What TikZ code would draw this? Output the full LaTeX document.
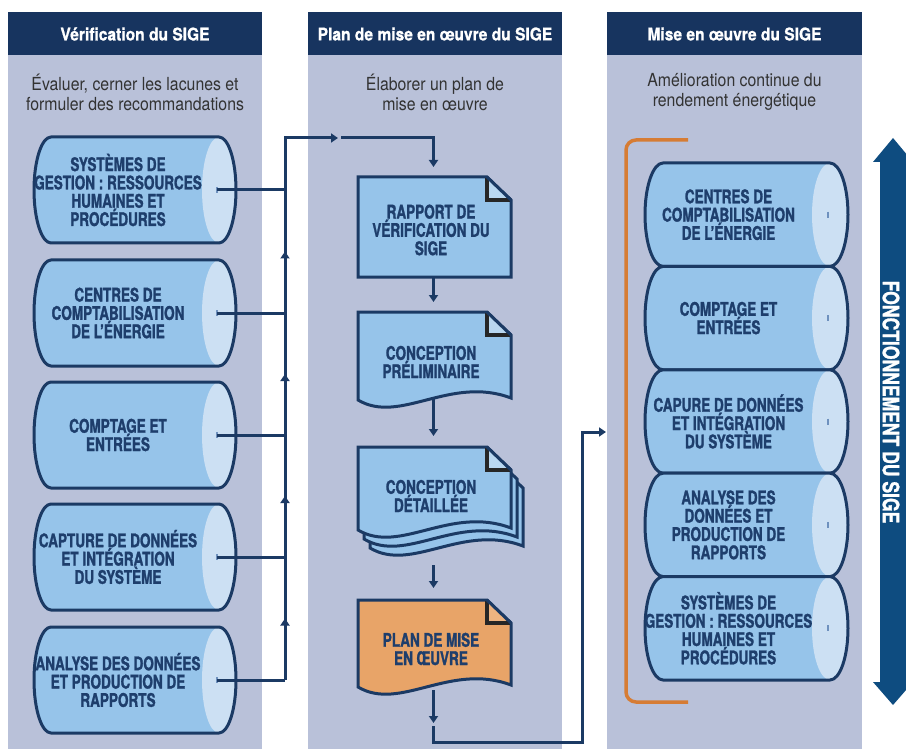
\documentclass[tikz,border=0pt]{standalone}
\usepackage{fontspec}
\setmainfont{TeX Gyre Heros}
\newfontfamily\hdrfont{TeX Gyre Heros}[FakeStretch=0.89,BoldFeatures={FakeBold=0.8}]
\newfontfamily\subfont{TeX Gyre Heros}[FakeStretch=0.88]
\newfontfamily\boxfont{TeX Gyre Heros}[FakeStretch=0.72,BoldFeatures={FakeBold=1.3}]
\newfontfamily\sidefont{TeX Gyre Heros}[FakeStretch=0.78,BoldFeatures={FakeBold=1.2}]
\usetikzlibrary{arrows.meta,calc,decorations.markings}
\definecolor{panelbg}{RGB}{185,193,217}
\definecolor{hdr}{RGB}{23,52,95}
\definecolor{cylfill}{RGB}{150,196,234}
\definecolor{cylend}{RGB}{204,224,243}
\definecolor{navy}{RGB}{27,58,100}
\definecolor{txtnavy}{RGB}{30,62,108}
\definecolor{foldblue}{RGB}{185,215,240}
\definecolor{docorange}{RGB}{232,164,104}
\definecolor{foldorange}{RGB}{238,180,128}
\definecolor{bracketc}{RGB}{214,124,52}
\definecolor{bigarrow}{RGB}{14,76,128}
\definecolor{subgray}{RGB}{51,51,51}
\definecolor{tickc}{RGB}{110,145,190}
\newcommand{\mycyl}[7]{%
  \pgfmathsetmacro{\cxl}{#2+#6}%
  \pgfmathsetmacro{\cxr}{#3-#6}%
  \pgfmathsetmacro{\ctop}{#4-#5}%
  \pgfmathsetmacro{\cbot}{#4+#5}%
  \pgfmathsetmacro{\ctx}{(#2+#3)/2-#6}%
  \fill[cylfill] (\cxl,\ctop) -- (\cxr,\ctop) arc[start angle=-90,end angle=90,x radius=#6,y radius=#5] -- (\cxl,\cbot) arc[start angle=90,end angle=270,x radius=#6,y radius=#5] -- cycle;
  \fill[cylend] (\cxr,#4) ellipse[x radius=#6,y radius=#5];
  \draw[cylline] (\cxl,\ctop) -- (\cxr,\ctop) arc[start angle=-90,end angle=90,x radius=#6,y radius=#5] -- (\cxl,\cbot) arc[start angle=90,end angle=270,x radius=#6,y radius=#5] -- cycle;
  \node[boxtext] (#1) at (\ctx,#4) {#7};
  \coordinate (#1-dot) at (\cxr-2,#4);
  \draw[tickline] (\cxr-2,#4-3) -- (\cxr-2,#4+3);
}
\newcommand{\mydocwave}[5]{%
  \filldraw[fill=#5,docline] (#1,#2) -- (#3-24,#2) -- (#3,#2+23) -- (#3,#4-2) .. controls (#3-61,#4-25) and (#1+42,#4+25) .. (#1,#4) -- cycle;
}
\newcommand{\myfold}[3]{%
  \fill[#3] (#1-24,#2) -- (#1-24,#2+23) -- (#1,#2+23) -- cycle;
  \draw[foldline] (#1-24,#2+1) -- (#1-24,#2+23) -- (#1-1,#2+23);
  \draw[docline] (#1-24,#2) -- (#1,#2+23);
}
\begin{document}
\begin{tikzpicture}[x=1pt,y=-1pt,
  conn/.style={draw=navy,line width=3pt},
  tip/.style={-{Triangle[width=9pt,length=7pt]}},
  midup/.style={postaction={decorate},decoration={markings,mark=at position 0.5 with {\arrow{Triangle[width=9pt,length=7pt]}}}},
  cylline/.style={draw=navy,line width=3pt},
  docline/.style={draw=navy,line width=3pt},
  foldline/.style={draw=black!85,line width=3.4pt},
  tickline/.style={draw=tickc,line width=1.8pt},
  boxtext/.style={align=center,inner sep=0pt,text=txtnavy,font=\boxfont\bfseries\fontsize{18.8}{18.3}\selectfont},
  hdrtext/.style={inner sep=0pt,text=white,font=\hdrfont\bfseries\fontsize{17.5}{20}\selectfont},
  subtext/.style={align=center,inner sep=0pt,text=subgray,font=\subfont\fontsize{18}{20}\selectfont},
  panel/.style={fill=panelbg},
  header/.style={fill=hdr}]
\useasboundingbox (0,0) rectangle (906,749);
\fill[white] (0,0) rectangle (906,749);
% panels
\fill[panel] (8,12) rectangle (262,749);
\fill[header] (8,12) rectangle (262,55);
\fill[panel] (308,12) rectangle (562,749);
\fill[header] (308,12) rectangle (562,55);
\fill[panel] (607,12) rectangle (862,749);
\fill[header] (607,12) rectangle (862,55);
\node[hdrtext] (h1) at (135,34) {Vérification du SIGE};
\node[hdrtext] (h2) at (435,34) {Plan de mise en œuvre du SIGE};
\node[hdrtext] (h3) at (734.5,34) {Mise en œuvre du SIGE};
\node[subtext] (s1) at (135,92) {Évaluer, cerner les lacunes et\\formuler des recommandations};
\node[subtext] (s2) at (435,92) {Élaborer un plan de\\mise en œuvre};
\node[subtext] (s3) at (734.5,92) {Amélioration continue du\\rendement énergétique};
% left cylinders
\mycyl{L1}{34}{236}{190}{53}{17}{SYSTÈMES DE\\GESTION : RESSOURCES\\HUMAINES ET\\PROCÉDURES}
\mycyl{L2}{34}{236}{313}{53}{17}{CENTRES DE\\COMPTABILISATION\\DE L’ÉNERGIE}
\mycyl{L3}{34}{236}{435}{53}{17}{COMPTAGE ET\\ENTRÉES}
\mycyl{L4}{34}{236}{557}{53}{17}{CAPTURE DE DONNÉES\\ET INTÉGRATION\\DU SYSTÈME}
\mycyl{L5}{34}{236}{680}{53}{17}{ANALYSE DES DONNÉES\\ET PRODUCTION DE\\RAPPORTS}
% bus connectors
\coordinate (busx) at (285,0);
\draw[conn] (L1-dot) -- (L1-dot -| busx) coordinate (J1);
\draw[conn] (L2-dot) -- (L2-dot -| busx) coordinate (J2);
\draw[conn] (L3-dot) -- (L3-dot -| busx) coordinate (J3);
\draw[conn] (L4-dot) -- (L4-dot -| busx) coordinate (J4);
\draw[conn] (L5-dot) -- (L5-dot -| busx) coordinate (J5);
\draw[conn,midup] (J5) -- (J4);
\draw[conn,midup] (J4) -- (J3);
\draw[conn,midup] (J3) -- (J2);
\draw[conn,midup] (J2) -- (J1);
\coordinate (TA) at (338,138);
\coordinate (TA2) at (341,138);
\coordinate (D1-top) at (433.5,177);
\coordinate (D1-bot) at (433.5,277);
\coordinate (D2-top) at (433.5,312);
\coordinate (D2-bot) at (433.5,399);
\coordinate (D3-top) at (433.5,447);
\coordinate (D3-bot) at (433.5,565);
\coordinate (D4-top) at (433.5,600);
\coordinate (D4-bot) at (433.5,690);
\coordinate (A4) at (433.5,723);
\coordinate (A4b) at (433.5,726);
\coordinate (RB) at (582,742);
\coordinate (RIn) at (606,432);
\draw[conn,tip] (J1) |- (TA);
\draw[conn,tip,shorten >=10pt] (TA2) -| (D1-top);
\draw[conn,tip,shorten >=10pt] (D1-bot) -- (D2-top);
\draw[conn,tip,shorten >=11pt] (D2-bot) -- (D3-top);
\draw[conn,tip,shorten >=12pt] (D3-bot) -- (D4-top);
\draw[conn,tip] (D4-bot) -- (A4);
\draw[conn,tip] (A4b) |- (RB) |- (RIn);
% documents
\filldraw[fill=cylfill,docline] (358,177) -- (487,177) -- (511,200) -- (511,277) -- (358,277) -- cycle;
\myfold{511}{177}{foldblue}
\node[boxtext] (D1) at (431,230) {RAPPORT DE\\VÉRIFICATION DU\\SIGE};
\mydocwave{358}{312}{511}{400}{cylfill}
\myfold{511}{312}{foldblue}
\node[boxtext] (D2) at (431,362) {CONCEPTION\\PRÉLIMINAIRE};
\mydocwave{370}{465}{523}{548}{cylfill}
\mydocwave{364}{456}{517}{539}{cylfill}
\mydocwave{358}{447}{511}{530}{cylfill}
\myfold{511}{447}{foldblue}
\node[boxtext] (D3) at (431,496) {CONCEPTION\\DÉTAILLÉE};
\mydocwave{358}{600}{511}{687}{docorange}
\myfold{511}{600}{foldorange}
\node[boxtext] (D4) at (431,649) {PLAN DE MISE\\EN ŒUVRE};
% right column
\draw[bracketc,line width=3.5pt,rounded corners=10pt] (688,140) -- (626,140) -- (626,702) -- (688,702);
\mycyl{R1}{645}{848}{214.7}{51.7}{18}{CENTRES DE\\COMPTABILISATION\\DE L’ÉNERGIE}
\mycyl{R2}{645}{848}{318.1}{51.7}{18}{COMPTAGE ET\\ENTRÉES}
\mycyl{R3}{645}{848}{421.5}{51.7}{18}{CAPURE DE DONNÉES\\ET INTÉGRATION\\DU SYSTÈME}
\mycyl{R4}{645}{848}{524.9}{51.7}{18}{ANALYSE DES\\DONNÉES ET\\PRODUCTION DE\\RAPPORTS}
\mycyl{R5}{645}{848}{628.3}{51.7}{18}{SYSTÈMES DE\\GESTION : RESSOURCES\\HUMAINES ET\\PROCÉDURES}
% big double arrow
\fill[bigarrow] (880,162) -- (873,162) -- (893,138) -- (913,162) -- (906,162) -- (906,682) -- (913,682) -- (893,705) -- (873,682) -- (880,682) -- cycle;
\node[rotate=-90,inner sep=0pt,text=white,font=\sidefont\bfseries\fontsize{22.5}{23}\selectfont] (side) at (891,402) {FONCTIONNEMENT DU SIGE};
\end{tikzpicture}
\end{document}
